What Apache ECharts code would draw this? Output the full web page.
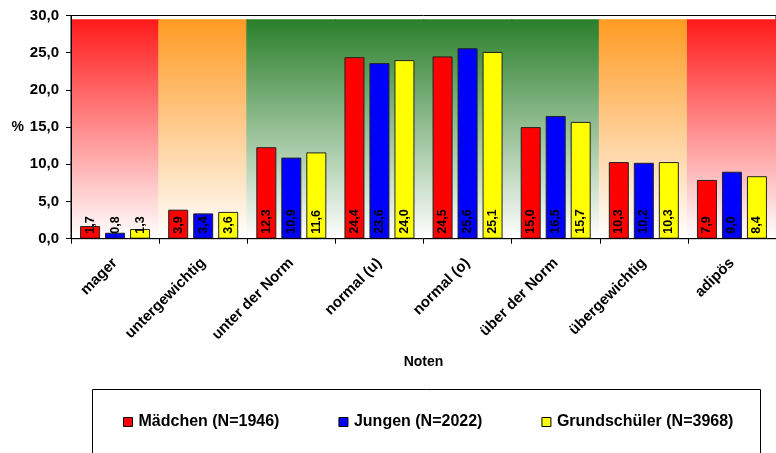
<!DOCTYPE html>
<html>
<head>
<meta charset="utf-8">
<script src="https://cdn.jsdelivr.net/npm/echarts@6/dist/echarts.min.js"></script>
<style>
  html, body { margin: 0; padding: 0; background: #fff; }
  #chart { width: 776px; height: 453px; }
</style>
</head>
<body>
<div id="chart"></div>
<script>
const categories = ['mager', 'untergewichtig', 'unter der Norm', 'normal (u)', 'normal (o)', 'über der Norm', 'übergewichtig', 'adipös']
const maedchen = [1.7, 3.9, 12.3, 24.4, 24.5, 15.0, 10.3, 7.9]
const jungen = [0.8, 3.4, 10.9, 23.6, 25.6, 16.5, 10.2, 9.0]
const grundschueler = [1.3, 3.6, 11.6, 24.0, 25.1, 15.7, 10.3, 8.4]
const seriesNames = ['Mädchen (N=1946)', 'Jungen (N=2022)', 'Grundschüler (N=3968)']
// Bewertungszone je Kategorie (Hintergrundband)
const zones = ['rot', 'orange', 'gruen', 'gruen', 'gruen', 'gruen', 'orange', 'rot']
const yMin = 0
const yMax = 30
const yStep = 5

const FONT = '"Liberation Sans", Arial, sans-serif'
const BAND_TOP = 29.5
const zoneColors = { rot: '#ff1a1a', orange: '#ff9a22', gruen: '#2a7f2a' }
const barColors = ['#ff0000', '#0000ff', '#ffff00']

const fmt = (v) => v.toFixed(1).replace('.', ',')

function zoneGradient(color) {
  return new echarts.graphic.LinearGradient(0, 0, 0, 1, [
    { offset: 0, color: color },
    { offset: 1, color: '#ffffff' }
  ])
}

function barSeries(name, values, color) {
  return {
    name: name,
    type: 'bar',
    xAxisIndex: 0,
    data: values,
    barWidth: 20,
    barGap: '25%',
    z: 3,
    itemStyle: { color: color, borderColor: '#222', borderWidth: 1 },
    label: {
      show: true,
      position: 'insideBottom',
      distance: 5,
      rotate: 90,
      align: 'left',
      verticalAlign: 'middle',
      color: '#000',
      fontFamily: FONT,
      fontWeight: 'bold',
      fontSize: 12.5,
      formatter: (p) => fmt(p.value)
    }
  }
}

const chart = echarts.init(document.getElementById('chart'))
chart.setOption({
  animation: false,
  textStyle: { fontFamily: FONT },
  grid: {
    left: 71, right: -9, top: 15.5, bottom: 214.3,
    show: true, borderColor: '#000', borderWidth: 1, backgroundColor: 'transparent'
  },
  graphic: [{
    type: 'rect',
    shape: { x: 92.5, y: 389.5, width: 668, height: 80 },
    style: { fill: '#fff', stroke: '#000', lineWidth: 1 },
    z: -1
  }],
  legend: {
    data: seriesNames,
    left: 123,
    top: 414,
    padding: 0,
    itemGap: 59,
    itemWidth: 9,
    itemHeight: 9,
    icon: 'rect',
    itemStyle: { borderColor: '#000', borderWidth: 1 },
    textStyle: { fontFamily: FONT, fontWeight: 'bold', fontSize: 16, color: '#000', padding: [0, 0, 0, 1] }
  },
  xAxis: [{
    type: 'category',
    data: categories,
    name: 'Noten',
    nameLocation: 'middle',
    nameGap: 116,
    nameTextStyle: { fontFamily: FONT, fontWeight: 'bold', fontSize: 14, color: '#000' },
    axisLine: { lineStyle: { color: '#000', width: 1 } },
    axisTick: { show: true, length: 5, alignWithLabel: false, lineStyle: { color: '#000' } },
    axisLabel: { rotate: 45, margin: 22, fontFamily: FONT, fontWeight: 'bold', fontSize: 15, color: '#000', interval: 0 },
    z: 5
  }, {
    type: 'category',
    data: categories,
    show: false
  }],
  yAxis: {
    type: 'value',
    min: yMin,
    max: yMax,
    interval: yStep,
    name: '%',
    nameLocation: 'middle',
    nameRotate: 0,
    nameGap: 46,
    nameTextStyle: { fontFamily: FONT, fontWeight: 'bold', fontSize: 14, color: '#000', align: 'right', verticalAlign: 'middle' },
    axisLine: { show: true, lineStyle: { color: '#000', width: 1 } },
    axisTick: { show: true, length: 5, lineStyle: { color: '#000' } },
    axisLabel: { margin: 12, fontFamily: FONT, fontWeight: 'bold', fontSize: 15, color: '#000', formatter: fmt },
    splitLine: { show: false },
    z: 5
  },
  series: [
    {
      name: 'zonen',
      type: 'bar',
      xAxisIndex: 1,
      barWidth: 90,
      silent: true,
      z: 1,
      data: zones.map((z) => ({ value: BAND_TOP, itemStyle: { color: zoneGradient(zoneColors[z]) } }))
    },
    barSeries(seriesNames[0], maedchen, barColors[0]),
    barSeries(seriesNames[1], jungen, barColors[1]),
    barSeries(seriesNames[2], grundschueler, barColors[2])
  ]
})
</script>
</body>
</html>
